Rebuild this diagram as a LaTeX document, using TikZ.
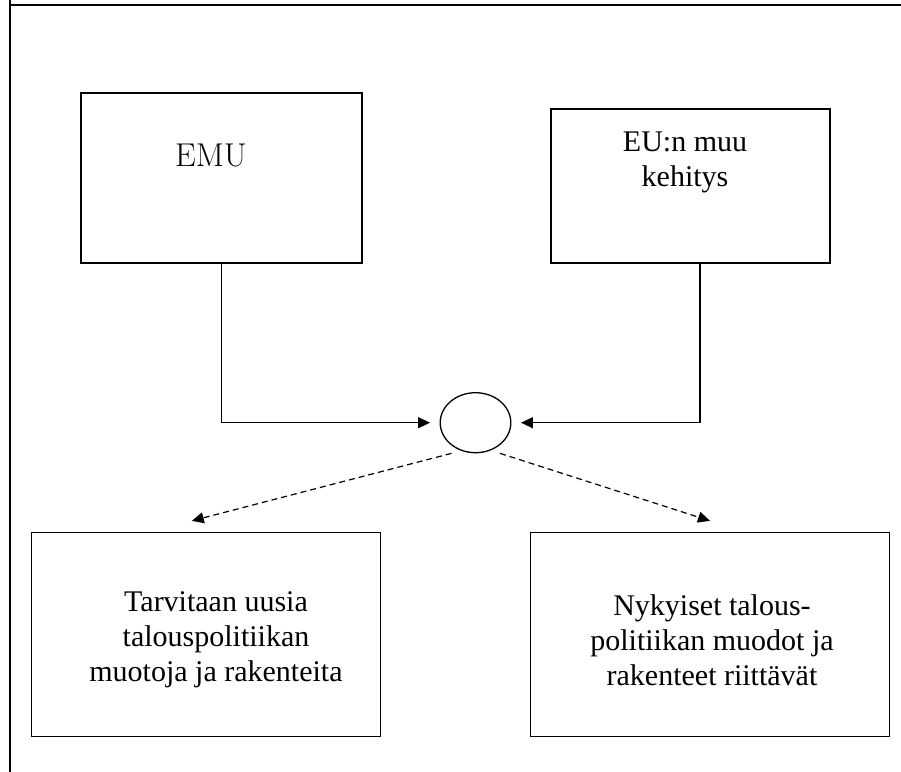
\documentclass[tikz,border=0pt]{standalone}
\usepackage{fontspec}
\newfontfamily\tnr{Liberation Serif}
\usetikzlibrary{arrows.meta,shapes.geometric}
\tikzset{
  box/.style={draw, line width=1.3pt, rectangle, inner sep=0pt},
  lbl/.style={align=center, inner sep=0pt, font=\tnr\fontsize{30}{35}\selectfont},
  conn/.style={line width=1.2pt, -{Triangle[length=12pt,width=11pt]}},
  dconn/.style={line width=1.2pt, dash pattern=on 6pt off 4pt, -{Triangle[length=12pt,width=11pt]}},
}
\begin{document}
\begin{tikzpicture}[x=1pt,y=-1pt]
\useasboundingbox (0,0) rectangle (901,771);
% outer frame (only top and left visible)
\draw[line width=2pt] (10,-5) -- (10,5) -- (906,5);
\draw[line width=2pt] (10,5) -- (10,776);
% boxes
\node[box, minimum width=281pt, minimum height=170pt] (emu) at (221.5,178) {};
\node[box, minimum width=279pt, minimum height=154pt] (eu) at (690.5,186) {};
\node[box, minimum width=349pt, minimum height=204pt] (left) at (206.3,634.5) {};
\node[box, minimum width=359pt, minimum height=204pt] (right) at (710,634.5) {};
\node[draw, line width=1.3pt, ellipse, minimum width=70.6pt, minimum height=60pt, inner sep=0pt] (ell) at (475.5,422.7) {};
% labels
\node[inner sep=0pt, font=\fontsize{33}{38}\selectfont] (temu) at (211,155) {EMU};
\node[lbl] (teu) at (685,162) {EU:n muu\\kehitys};
\node[lbl] (tleft) at (216,640) {Tarvitaan uusia\\talouspolitiikan\\muotoja ja rakenteita};
\node[lbl] (tright) at (712,640) {Nykyiset talous-\\politiikan muodot ja\\rakenteet riittävät};
% connectors
\draw[conn, shorten >=9.5pt] (emu.south) |- (ell.west);
\draw[conn, shorten >=9.5pt] ([xshift=9.5pt]eu.south) |- (ell.east);
\draw[dconn] ([xshift=-24pt]ell.south) -- ([xshift=-14.5pt,yshift=11pt]left.north);
\draw[dconn] ([xshift=24.5pt]ell.south) -- ([yshift=11pt]right.north);
\end{tikzpicture}
\end{document}
